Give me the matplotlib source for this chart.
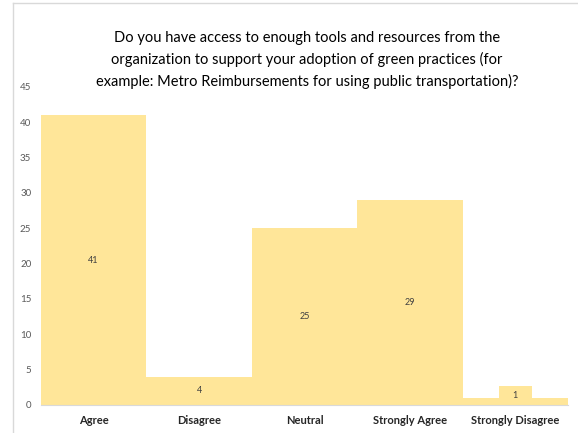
import matplotlib.pyplot as plt
from matplotlib.lines import Line2D
from matplotlib.patches import Rectangle

# survey answers
categories = ["Agree", "Disagree", "Neutral", "Strongly Agree", "Strongly Disagree"]
counts = [41, 4, 25, 29, 1]
yticks = [0, 5, 10, 15, 20, 25, 30, 35, 40, 45]

title = ("Do you have access to enough tools and resources from the\n"
         "organization to support your adoption of green practices (for\n"
         "example: Metro Reimbursements for using public transportation)?")

plt.rcParams['font.family'] = ['Lato', 'DejaVu Sans']
bar_color = "#FFE699"

fig = plt.figure(figsize=(5.78, 4.33), dpi=100)
ax = fig.add_axes([0.0709, 0.0647, 0.9118, 0.7345])

x = range(len(categories))
ax.bar(x, counts, width=1.0, color=bar_color, edgecolor="none")

# value labels in the middle of each bar, kept clear of the baseline
box_w, box_h = 0.31, 2.55
for xi, v in zip(x, counts):
    ly = max(v / 2, box_h / 2 + 0.1)
    ax.add_patch(Rectangle((xi - box_w / 2, ly - box_h / 2), box_w, box_h,
                           facecolor=bar_color, edgecolor="none", zorder=2))
    ax.text(xi, ly, str(v), ha="center", va="center", fontsize=6.5,
            color="#404040", zorder=3)

ax.set_xlim(-0.5, len(categories) - 0.5)
ax.set_ylim(0, 45)
ax.set_yticks(yticks)
ax.set_xticks(list(x))
ax.set_xticklabels(categories, fontsize=8, fontweight="bold", color="#262626")
ax.tick_params(axis="y", labelsize=7, colors="#595959", length=0, pad=7)
ax.tick_params(axis="x", length=0, pad=7)

for side in ["top", "right", "left"]:
    ax.spines[side].set_visible(False)
ax.spines["bottom"].set_color("#d9d9d9")
ax.spines["bottom"].set_linewidth(0.8)

fig.text(0.531, 0.861, title, ha="center", va="center", fontsize=10.5,
         color="#000000", linespacing=1.55)

# outer frame of the chart area (top and left edges)
fx, fy = 13 / 578, 1 - 3 / 433
fig.lines.append(Line2D([fx, fx], [0, fy], transform=fig.transFigure,
                        color="#d9d9d9", linewidth=1.0))
fig.lines.append(Line2D([fx, 1], [fy, fy], transform=fig.transFigure,
                        color="#d9d9d9", linewidth=1.0))

fig.savefig("out.png", dpi=100)
